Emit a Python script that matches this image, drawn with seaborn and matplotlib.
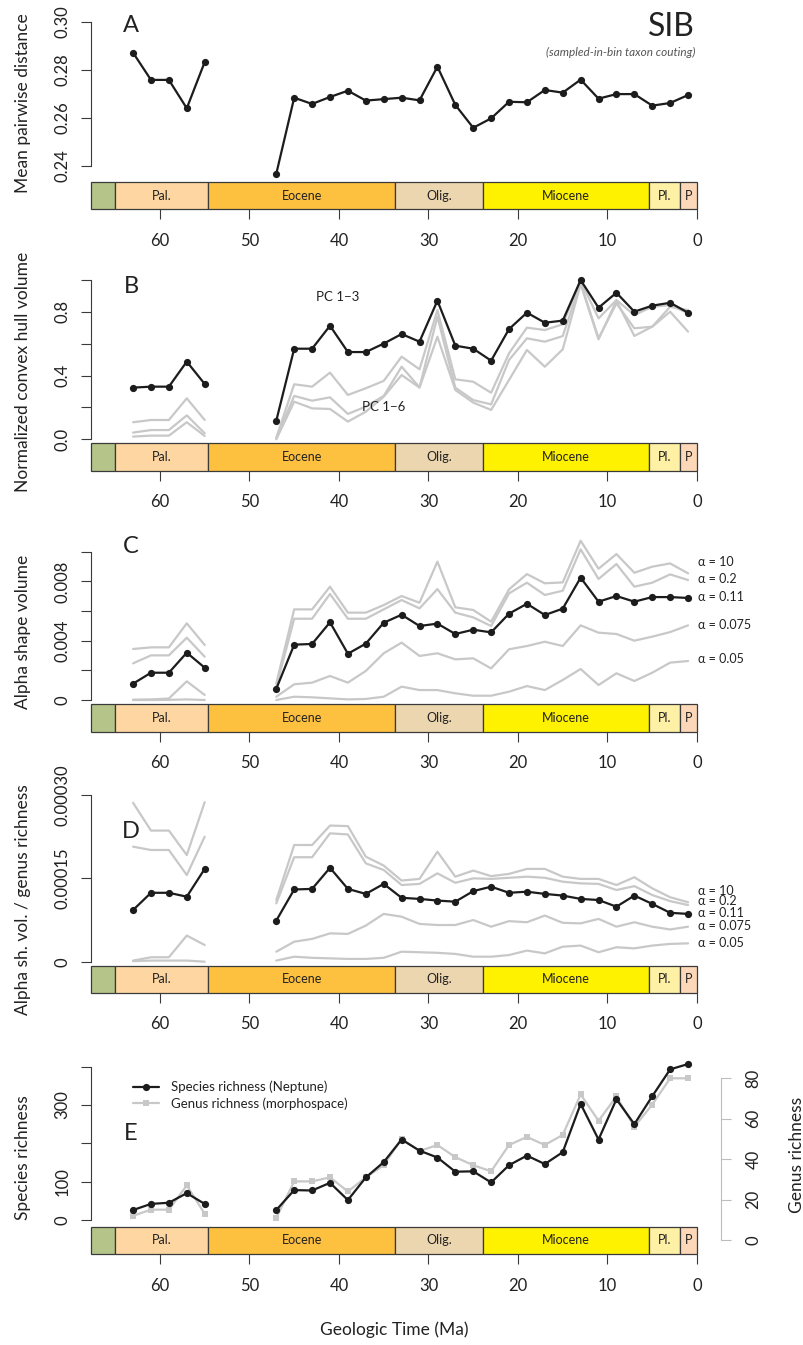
import numpy as np
import pandas as pd
import seaborn as sns
import matplotlib.pyplot as plt

# ---------------- data ----------------
# bin midpoints (Ma); nothing sampled between 53 and 49 Ma
ages = [63, 61, 59, 57, 55,
        47, 45, 43, 41, 39, 37, 35,
        33, 31, 29, 27, 25, 23,
        21, 19, 17, 15, 13, 11,
        9, 7, 5, 3, 1]
segment = ["paleocene"] * 5 + ["post"] * 24

# A - mean pairwise distance
mpd = [0.2871, 0.2758, 0.2758, 0.2640, 0.2832,
       0.2368, 0.2684, 0.2658, 0.2687, 0.2713, 0.2672, 0.2678,
       0.2684, 0.2673, 0.2813, 0.2654, 0.2559, 0.2598,
       0.2667, 0.2665, 0.2716, 0.2705, 0.2759, 0.2680,
       0.2699, 0.2699, 0.2651, 0.2662, 0.2695]

# B - normalized convex hull volume
hull_pc13 = [0.324, 0.330, 0.330, 0.487, 0.347,
             0.117, 0.568, 0.568, 0.712, 0.547, 0.547, 0.600,
             0.660, 0.612, 0.869, 0.587, 0.568, 0.493,
             0.691, 0.794, 0.731, 0.744, 0.998, 0.825,
             0.919, 0.800, 0.838, 0.856, 0.794]
hull_pc14 = [0.107, 0.121, 0.121, 0.257, 0.121,
             0.010, 0.345, 0.330, 0.418, 0.278, 0.320, 0.366,
             0.518, 0.439, 0.810, 0.376, 0.361, 0.292,
             0.539, 0.700, 0.685, 0.721, 0.994, 0.758,
             0.873, 0.779, 0.831, 0.842, 0.790]
hull_pc15 = [0.042, 0.058, 0.058, 0.150, 0.038,
             0.005, 0.272, 0.242, 0.263, 0.159, 0.205, 0.272,
             0.455, 0.326, 0.769, 0.324, 0.246, 0.219,
             0.497, 0.633, 0.612, 0.647, 0.982, 0.633,
             0.852, 0.696, 0.706, 0.831, 0.810]
hull_pc16 = [0.017, 0.023, 0.023, 0.107, 0.021,
             0.000, 0.236, 0.194, 0.190, 0.111, 0.173, 0.267,
             0.403, 0.324, 0.643, 0.309, 0.230, 0.184,
             0.372, 0.560, 0.455, 0.564, 0.973, 0.627,
             0.869, 0.648, 0.706, 0.800, 0.675]

# C - alpha shape volume
alpha_labels = ["\u03b1 = 10", "\u03b1 = 0.2", "\u03b1 = 0.11", "\u03b1 = 0.075", "\u03b1 = 0.05"]
vol_a10 = [0.00344, 0.00355, 0.00355, 0.00517, 0.00371,
           0.00112, 0.00611, 0.00611, 0.00764, 0.00589, 0.00589, 0.00640,
           0.00701, 0.00656, 0.00933, 0.00625, 0.00607, 0.00528,
           0.00746, 0.00849, 0.00787, 0.00793, 0.01074, 0.00885,
           0.00984, 0.00858, 0.00899, 0.00921, 0.00854]
vol_a02 = [0.00247, 0.00301, 0.00301, 0.00420, 0.00292,
           0.00090, 0.00548, 0.00548, 0.00715, 0.00548, 0.00548, 0.00611,
           0.00674, 0.00618, 0.00748, 0.00589, 0.00557, 0.00499,
           0.00719, 0.00791, 0.00708, 0.00737, 0.01016, 0.00816,
           0.00917, 0.00764, 0.00791, 0.00847, 0.00809]
vol_a011 = [0.00110, 0.00184, 0.00184, 0.00319, 0.00218,
            0.00076, 0.00373, 0.00378, 0.00524, 0.00312, 0.00380, 0.00521,
            0.00575, 0.00499, 0.00515, 0.00445, 0.00474, 0.00456,
            0.00582, 0.00649, 0.00573, 0.00616, 0.00825, 0.00663,
            0.00701, 0.00663, 0.00694, 0.00694, 0.00688]
vol_a0075 = [0.00002, 0.00004, 0.00010, 0.00126, 0.00034,
             0.00022, 0.00106, 0.00117, 0.00162, 0.00117, 0.00196, 0.00315,
             0.00387, 0.00297, 0.00315, 0.00274, 0.00281, 0.00213,
             0.00342, 0.00364, 0.00393, 0.00364, 0.00503, 0.00454,
             0.00445, 0.00400, 0.00427, 0.00458, 0.00503]
vol_a005 = [0.00000, 0.00000, 0.00001, 0.00004, 0.00000,
            0.00000, 0.00022, 0.00018, 0.00011, 0.00004, 0.00007, 0.00022,
            0.00090, 0.00067, 0.00067, 0.00045, 0.00029, 0.00029,
            0.00056, 0.00094, 0.00067, 0.00135, 0.00209, 0.00101,
            0.00180, 0.00128, 0.00184, 0.00252, 0.00263]

# D - alpha shape volume / genus richness
rel_a10 = [0.000286, 0.000236, 0.000236, 0.000192, 0.000287,
           0.000111, 0.000210, 0.000210, 0.000245, 0.000244, 0.000189, 0.000173,
           0.000146, 0.000149, 0.000198, 0.000153, 0.000164, 0.000154,
           0.000158, 0.000167, 0.000167, 0.000153, 0.000149, 0.000149,
           0.000138, 0.000152, 0.000132, 0.000116, 0.000107]
rel_a02 = [0.000207, 0.000201, 0.000201, 0.000156, 0.000225,
           0.000105, 0.000188, 0.000188, 0.000231, 0.000229, 0.000177, 0.000165,
           0.000138, 0.000140, 0.000159, 0.000142, 0.000150, 0.000149,
           0.000151, 0.000153, 0.000151, 0.000144, 0.000141, 0.000140,
           0.000129, 0.000136, 0.000120, 0.000109, 0.000102]
rel_a011 = [0.000093, 0.000124, 0.000124, 0.000117, 0.000167,
            0.000074, 0.000130, 0.000131, 0.000169, 0.000131, 0.000122, 0.000140,
            0.000115, 0.000113, 0.000110, 0.000108, 0.000127, 0.000135,
            0.000124, 0.000126, 0.000122, 0.000119, 0.000113, 0.000111,
            0.000099, 0.000119, 0.000104, 0.000088, 0.000086]
rel_a0075 = [0.000002, 0.000008, 0.000008, 0.000047, 0.000030,
             0.000018, 0.000036, 0.000041, 0.000051, 0.000050, 0.000065, 0.000086,
             0.000081, 0.000068, 0.000066, 0.000066, 0.000075, 0.000063,
             0.000073, 0.000071, 0.000083, 0.000070, 0.000069, 0.000077,
             0.000063, 0.000071, 0.000063, 0.000058, 0.000063]
rel_a005 = [0.000001, 0.000002, 0.000002, 0.000002, 0.000000,
            0.000002, 0.000009, 0.000007, 0.000006, 0.000005, 0.000005, 0.000007,
            0.000018, 0.000017, 0.000016, 0.000014, 0.000009, 0.000009,
            0.000012, 0.000020, 0.000015, 0.000027, 0.000029, 0.000017,
            0.000026, 0.000024, 0.000029, 0.000032, 0.000033]

# E - richness
species = [26, 42, 45, 70, 42,
           26, 78, 77, 97, 52, 111, 151,
           210, 181, 163, 126, 127, 98,
           143, 168, 146, 177, 303, 210,
           315, 250, 323, 393, 407]
genus = [12, 15, 15, 27, 13,
         11, 29, 29, 31, 24, 31, 37,
         50, 44, 47, 41, 37, 34,
         47, 51, 47, 52, 72, 59,
         71, 56, 67, 80, 80]

# geologic timescale
epoch_names = ["", "Pal.", "Eocene", "Olig.", "Miocene", "Pl.", "P"]
epoch_start = [67.7, 65.0, 54.6, 33.7, 23.9, 5.33, 1.9]
epoch_end = [65.0, 54.6, 33.7, 23.9, 5.33, 1.9, 0.0]
epoch_colors = ["#b5c58a", "#fdd6a2", "#fdc03f", "#ecd6b0", "#fef200", "#fef0a4", "#fdd8b8"]
time_ticks = [60, 50, 40, 30, 20, 10, 0]

# ---------------- style ----------------
sns.set_style("white")
plt.rcParams["font.family"] = ["Lato", "DejaVu Sans"]
INK = "#222222"
GRAY = "#c8c8c8"
BLACK = "#1c1c1c"
EDGE = "#3a3a3a"
plt.rcParams["text.color"] = INK
plt.rcParams["axes.labelcolor"] = INK
plt.rcParams["xtick.color"] = EDGE
plt.rcParams["ytick.color"] = EDGE
plt.rcParams["xtick.labelcolor"] = INK
plt.rcParams["ytick.labelcolor"] = INK

W, H = 804, 1345
X0, X1 = 91, 697          # pixel extent of the time axis
XMAX = 67.7               # age at left edge

fig = plt.figure(figsize=(W / 100, H / 100), dpi=100)


def box(x0, y0, x1, y1):
    return [x0 / W, 1 - y1 / H, (x1 - x0) / W, (y1 - y0) / H]


def ftext(x, y, s, **kw):
    fig.text(x / W, 1 - y / H, s, **kw)


def long_df(series):
    parts = []
    for name, vals in series.items():
        parts.append(pd.DataFrame({"age": ages, "value": vals, "seg": segment, "series": name}))
    return pd.concat(parts, ignore_index=True)


def data_axes(top, bottom, p0, v0, p1, v1, ticks, labels):
    ax = fig.add_axes(box(X0, top, X1, bottom))
    ax.patch.set_visible(False)
    k = (v1 - v0) / (p0 - p1)
    ax.set_ylim(v0 - (bottom - p0) * k, v1 + (p1 - top) * k)
    ax.set_xlim(XMAX, 0)
    for s in ["top", "right", "bottom"]:
        ax.spines[s].set_visible(False)
    ax.spines["left"].set_bounds(ticks[0], ticks[-1])
    ax.spines["left"].set_color(EDGE)
    ax.spines["left"].set_linewidth(0.8)
    ax.set_xticks([])
    ax.set_yticks(ticks)
    ax.set_yticklabels(labels)
    ax.tick_params(axis="y", direction="out", length=7, width=0.8, pad=8,
                   labelsize=12, labelrotation=90, left=True)
    for t in ax.get_yticklabels():
        t.set_va("center")
    return ax


def timescale(top, bottom):
    axb = fig.add_axes(box(X0, top, X1, bottom))
    widths = [s - e for s, e in zip(epoch_start, epoch_end)]
    bars = axb.barh(0, widths, left=epoch_end, height=1, align="edge",
                    color=epoch_colors, edgecolor=EDGE, linewidth=0.9)
    for b in bars:
        b.set_clip_on(False)
    for name, s, e in zip(epoch_names, epoch_start, epoch_end):
        axb.text((s + e) / 2, 0.5, name, ha="center", va="center", fontsize=9, color=INK)
    axb.set_xlim(XMAX, 0)
    axb.set_ylim(0, 1)
    axb.set_yticks([])
    for s in axb.spines.values():
        s.set_visible(False)
    axb.set_xticks(time_ticks)
    axb.set_xticklabels([str(t) for t in time_ticks])
    axb.tick_params(axis="x", direction="out", length=7, width=0.8, pad=10,
                    labelsize=12, bottom=True)
    return axb


def gray_lines(ax, df):
    n = df["series"].nunique()
    sns.lineplot(data=df, x="age", y="value", hue="series", units="seg",
                 estimator=None, palette=[GRAY] * n, lw=1.6, legend=False, ax=ax)


def black_line(ax, vals):
    df = pd.DataFrame({"age": ages, "value": vals, "seg": segment})
    sns.lineplot(data=df, x="age", y="value", units="seg", estimator=None,
                 color=BLACK, lw=1.6, marker="o", markersize=5.2,
                 markeredgewidth=0, ax=ax)


def finish(ax, ylim):
    ax.set_xlabel("")
    ax.set_ylabel("")
    ax.set_xlim(XMAX, 0)
    ax.set_ylim(*ylim)


# ---------------- A ----------------
axA = data_axes(5, 181.7, 166, 0.24, 21.7, 0.30,
                [0.24, 0.26, 0.28, 0.30], ["0.24", "0.26", "0.28", "0.30"])
lim = axA.get_ylim()
black_line(axA, mpd)
finish(axA, lim)
timescale(181.7, 209.3)

# ---------------- B ----------------
axB = data_axes(265, 442.7, 439.3, 0.0, 279.8, 1.0,
                [0, 0.2, 0.4, 0.6, 0.8, 1.0], ["0.0", "", "0.4", "", "0.8", ""])
lim = axB.get_ylim()
gray_lines(axB, long_df({"PC 1-4": hull_pc14, "PC 1-5": hull_pc15, "PC 1-6": hull_pc16}))
black_line(axB, hull_pc13)
finish(axB, lim)
timescale(442.7, 470.7)

# ---------------- C ----------------
axC = data_axes(530, 704.3, 700, 0.0, 551.7, 0.010,
                [0, 0.002, 0.004, 0.006, 0.008, 0.010], ["0", "", "0.004", "", "0.008", ""])
lim = axC.get_ylim()
gray_lines(axC, long_df({"a10": vol_a10, "a02": vol_a02, "a0075": vol_a0075, "a005": vol_a005}))
black_line(axC, vol_a011)
finish(axC, lim)
timescale(704.3, 731.7)

# ---------------- D ----------------
axD = data_axes(785, 965.7, 961.7, 0.0, 795, 0.0003,
                [0, 0.00015, 0.0003], ["0", "0.00015", "0.00030"])
lim = axD.get_ylim()
gray_lines(axD, long_df({"a10": rel_a10, "a02": rel_a02, "a0075": rel_a0075, "a005": rel_a005}))
black_line(axD, rel_a011)
finish(axD, lim)
timescale(965.7, 992.7)

# ---------------- E ----------------
axE = data_axes(1050, 1226.7, 1220, 0, 1066.7, 400,
                [0, 100, 200, 300, 400], ["0", "100", "", "300", ""])
limE = axE.get_ylim()
axE.set_zorder(3)

axG = fig.add_axes(box(X0, 1050, X1, 1240))
axG.patch.set_visible(False)
kg = 80 / (1240 - 1078.3)
gdf = pd.DataFrame({"age": ages, "value": genus, "seg": segment})
sns.lineplot(data=gdf, x="age", y="value", units="seg", estimator=None,
             color=GRAY, lw=1.6, marker="s", markersize=5, markeredgewidth=0, ax=axG)
axG.set_xlabel("")
axG.set_ylabel("")
axG.set_xlim(XMAX, 0)
axG.set_ylim(0, 80 + (1078.3 - 1050) * kg)
for s in ["top", "left", "bottom"]:
    axG.spines[s].set_visible(False)
axG.spines["right"].set_position(("outward", 17))
axG.spines["right"].set_bounds(0, 80)
axG.spines["right"].set_color("#bdbdbd")
axG.spines["right"].set_linewidth(0.8)
axG.set_xticks([])
axG.yaxis.tick_right()
axG.set_yticks([0, 20, 40, 60, 80])
axG.set_yticklabels(["0", "20", "40", "60", "80"])
axG.tick_params(axis="y", direction="out", length=7, width=0.8, pad=11, color="#bdbdbd",
                labelsize=12, labelrotation=90, right=True, left=False)
for t in axG.get_yticklabels():
    t.set_va("center")

black_line(axE, species)
finish(axE, limE)
axE.legend(handles=[axE.lines[0], axG.lines[0]],
           labels=["Species richness (Neptune)", "Genus richness (morphospace)"],
           loc="upper left", bbox_to_anchor=(126 / W, 1 - 1074 / H),
           bbox_transform=fig.transFigure, frameon=False, fontsize=9.5,
           handlelength=2.0, handletextpad=0.9, borderpad=0, labelspacing=0.3)
timescale(1226.7, 1254)

# ---------------- annotations ----------------
for letter, y in zip(["A", "B", "C", "D", "E"], [25, 286.7, 546.7, 832, 1134]):
    ftext(131, y, letter, ha="center", va="center", fontsize=17)

ftext(695, 27, "SIB", ha="right", va="center", fontsize=23)
ftext(695, 52.7, "(sampled-in-bin taxon couting)", ha="right", va="center",
      fontsize=8.5, style="italic", color="#555555")

ftext(338, 296.7, "PC 1\u22123", ha="center", va="center", fontsize=9.5)
ftext(384, 407, "PC 1\u22126", ha="center", va="center", fontsize=9.5)

for lab, y in zip(alpha_labels, [561.7, 579.3, 597.3, 625, 659.3]):
    ftext(698, y, lab, ha="left", va="center", fontsize=9)
for lab, y in zip(alpha_labels, [890.7, 900.7, 913.3, 925.7, 943.3]):
    ftext(698, y, lab, ha="left", va="center", fontsize=9)

ylabels = ["Mean pairwise distance", "Normalized convex hull volume", "Alpha shape volume",
           "Alpha sh. vol. / genus richness", "Species richness"]
for lab, y in zip(ylabels, [103, 372, 632, 900, 1158]):
    ftext(23, y, lab, ha="center", va="center", rotation=90, fontsize=12.5)
ftext(797, 1155, "Genus richness", ha="center", va="center", rotation=90, fontsize=12.5)

ftext(394, 1330, "Geologic Time (Ma)", ha="center", va="center", fontsize=12.5)

fig.savefig("out.png", dpi=100)
